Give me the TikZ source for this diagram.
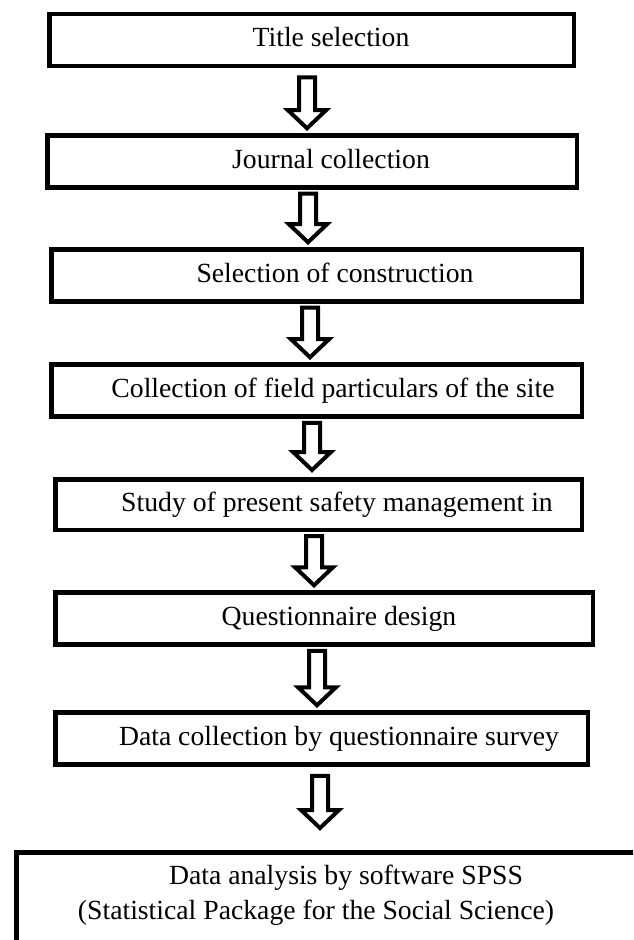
\documentclass[tikz,border=0pt]{standalone}
\usepackage{fontspec}
\setmainfont{Liberation Serif}
\usetikzlibrary{calc}

\begin{document}
\begin{tikzpicture}[x=0.5pt,y=-0.5pt,
  box/.style={draw,line width=2.25pt,minimum height=26pt,inner sep=0pt},
  txt/.style={font=\fontsize{13.85}{17.5}\selectfont,text height=1.7ex,text depth=.25ex,inner sep=0pt},
  fat/.style={line width=2pt,miter limit=10,to path={let \p1=(\tikztostart), \p2=(\tikztotarget) in
    (\x1-4pt,\y1) -- (\x1+4pt,\y1) -- (\x1+4pt,\y2+9pt) -- (\x1+9.5pt,\y2+9pt) -- (\x1,\y2)
    -- (\x1-9.5pt,\y2+9pt) -- (\x1-4pt,\y2+9pt) -- cycle}}]
\useasboundingbox (0,0) rectangle (633,940);
\clip (0,0) rectangle (633,940);

\node[box,minimum width=262.25pt,label={[txt,xshift=9.75pt]center:Title selection}] (title) at (311.5,40) {};
\node[box,minimum width=264.75pt,label={[txt,xshift=9.5pt]center:Journal collection}] (journal) at (312,161.5) {};
\node[box,minimum width=265.25pt,label={[txt,xshift=9.25pt]center:Selection of construction}] (select) at (316.5,275.5) {};
\node[box,minimum width=265.25pt,label={[txt,xshift=8.25pt]center:Collection of field particulars of the site}] (field) at (316.5,390.5) {};
\node[box,minimum width=263.25pt,minimum height=25.25pt,label={[txt,xshift=9.25pt]center:Study of present safety management in}] (study) at (318.5,504.5) {};
\node[box,minimum width=268.75pt,label={[txt,xshift=7.5pt]center:Questionnaire design}] (quest) at (324,618.5) {};
\node[box,minimum width=266.25pt,label={[txt,xshift=8.75pt]center:Data collection by questionnaire survey}] (survey) at (321.5,738.5) {};
\node[box,minimum width=341.75pt,minimum height=73.75pt,
  label={[txt,xshift=-6pt,yshift=24.1pt]center:Data analysis by software SPSS},
  label={[txt,xshift=-21pt,yshift=6.6pt]center:(Statistical Package for the Social Science)}] (spss) at (358,926) {};

\draw[fat] ([xshift=-2.25pt,yshift=-4.6pt]title.south) to ([yshift=2.5pt]journal.north);
\draw[fat] ([xshift=-2pt,yshift=-2pt]journal.south) to ([yshift=2.5pt]select.north);
\draw[fat] ([xshift=-3.25pt,yshift=-2pt]select.south) to ([yshift=2.5pt]field.north);
\draw[fat] ([xshift=-2.25pt,yshift=-2pt]field.south) to ([yshift=3.5pt]study.north);
\draw[fat] ([xshift=-2.25pt,yshift=-2pt]study.south) to ([yshift=2.5pt]quest.north);
\draw[fat] ([xshift=-3.5pt,yshift=-2pt]quest.south) to ([yshift=2.5pt]survey.north);
\draw[fat] ([xshift=-0.75pt,yshift=-4.6pt]survey.south) to ([yshift=11pt]spss.north);

\end{tikzpicture}
\end{document}
